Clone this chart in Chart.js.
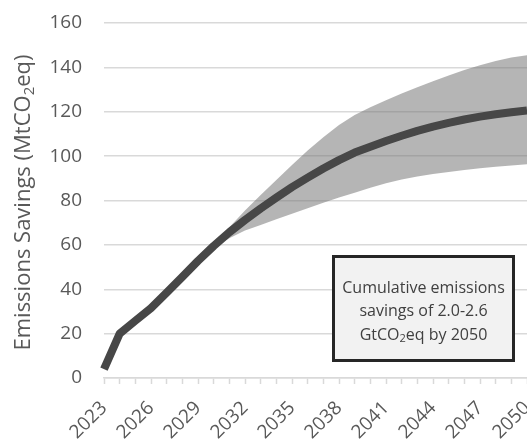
<!DOCTYPE html>
<html>
<head>
<meta charset="utf-8">
<script src="https://cdn.jsdelivr.net/npm/chart.js@4/dist/chart.umd.min.js"></script>
<style>
  html, body { margin: 0; padding: 0; background: #ffffff; }
  #wrap { width: 527px; height: 441px; position: relative; }
</style>
</head>
<body>
<div id="wrap"><canvas id="c" width="527" height="441"></canvas></div>
<script>
// Years on the category axis
const years = ['2023','2024','2025','2026','2027','2028','2029','2030','2031','2032',
  '2033','2034','2035','2036','2037','2038','2039','2040','2041','2042',
  '2043','2044','2045','2046','2047','2048','2049','2050'];

// Central estimate of annual emissions savings (MtCO2eq)
const central = [4, 20, 25.8, 31.5, 38.5, 45.6, 52.8, 59.5, 65.7, 71.2,
  76.4, 81.3, 86.0, 90.3, 94.4, 98.2, 101.6, 104.2, 106.8, 109.2,
  111.4, 113.3, 115.0, 116.5, 117.8, 118.9, 119.8, 120.6];

// Upper and lower bounds of the savings range
const rangeHigh = [4, 20, 25.8, 31.5, 38.5, 45.6, 52.8, 60.5, 68, 75.5,
  82.5, 89.2, 96, 102.5, 108.5, 114, 118.5, 122, 125.2, 128.2,
  131, 133.7, 136.3, 138.8, 141, 142.9, 144.4, 145.5];
const rangeLow = [4, 20, 25.8, 31.5, 38.5, 45.6, 52.8, 58.8, 63, 66.5,
  69, 71.5, 74, 76.5, 79, 81.3, 83.5, 85.7, 87.8, 89.5,
  90.8, 91.9, 92.8, 93.7, 94.5, 95.2, 95.8, 96.3];

// Axis title and note text
const axisTitle = ['Emissions Savings (MtCO', '2', 'eq)'];
const noteLines = [
  [['Cumulative emissions', false]],
  [['savings of 2.0-2.6', false]],
  [['GtCO', false], ['2', true], ['eq by 2050', false]]
];

const FONT = '"Open Sans", "DejaVu Sans", sans-serif';
const GRID = '#d9d9d9';
const LABEL = '#595959';

// Rotated y-axis title with a real subscript
const yTitlePlugin = {
  id: 'yTitle',
  afterDraw(chart) {
    const ctx = chart.ctx;
    const area = chart.chartArea;
    const big = '22px ' + FONT, small = '15px ' + FONT;
    ctx.save();
    ctx.font = big;
    const w0 = ctx.measureText(axisTitle[0]).width;
    const w2 = ctx.measureText(axisTitle[2]).width;
    ctx.font = small;
    const w1 = ctx.measureText(axisTitle[1]).width;
    const total = w0 + w1 + w2;
    const cx = 24, cy = (area.top + area.bottom) / 2 + 2;
    ctx.translate(cx, cy);
    ctx.rotate(-Math.PI / 2);
    ctx.fillStyle = LABEL;
    ctx.textBaseline = 'middle';
    ctx.textAlign = 'left';
    let x = -total / 2;
    ctx.font = big; ctx.fillText(axisTitle[0], x, 0); x += w0;
    ctx.font = small; ctx.fillText(axisTitle[1], x, 6); x += w1;
    ctx.font = big; ctx.fillText(axisTitle[2], x, 0);
    ctx.restore();
  }
};

// Framed note in the lower right of the plot
const notePlugin = {
  id: 'note',
  afterDraw(chart) {
    const ctx = chart.ctx;
    const a = chart.chartArea;
    const bw = 180, bh = 104;
    const right = a.right - 13.5, bottom = a.bottom - 17.5;
    const left = right - bw, top = bottom - bh;
    ctx.save();
    ctx.fillStyle = '#f2f2f2';
    ctx.fillRect(left, top, bw, bh);
    ctx.lineWidth = 3;
    ctx.strokeStyle = '#262626';
    ctx.strokeRect(left, top, bw, bh);
    const cx = left + bw / 2;
    const big = '16px ' + FONT, small = '11px ' + FONT;
    ctx.fillStyle = '#404040';
    ctx.textBaseline = 'alphabetic';
    ctx.textAlign = 'left';
    noteLines.forEach((parts, i) => {
      const baseY = top + 36 + i * 23.5;
      let total = 0;
      const widths = parts.map(([t, sub]) => {
        ctx.font = sub ? small : big;
        const w = ctx.measureText(t).width;
        total += w;
        return w;
      });
      let x = cx - total / 2;
      parts.forEach(([t, sub], j) => {
        ctx.font = sub ? small : big;
        ctx.fillText(t, x, baseY + (sub ? 2 : 0));
        x += widths[j];
      });
    });
    ctx.restore();
  }
};

new Chart(document.getElementById('c'), {
  type: 'line',
  data: {
    labels: years,
    datasets: [
      {
        label: 'Central',
        data: central,
        borderColor: '#474747',
        borderWidth: 8,
        pointRadius: 0,
        tension: 0,
        fill: false,
        borderCapStyle: 'butt',
        borderJoinStyle: 'round'
      },
      {
        label: 'High',
        data: rangeHigh,
        borderWidth: 0,
        borderColor: 'rgba(0,0,0,0)',
        backgroundColor: 'rgba(115,115,115,0.53)',
        pointRadius: 0,
        tension: 0,
        fill: '+1'
      },
      {
        label: 'Low',
        data: rangeLow,
        borderWidth: 0,
        borderColor: 'rgba(0,0,0,0)',
        pointRadius: 0,
        tension: 0,
        fill: false
      }
    ]
  },
  options: {
    responsive: false,
    animation: false,
    devicePixelRatio: 1,
    layout: { padding: { top: 23, right: 0, left: 0, bottom: 0 } },
    plugins: {
      legend: { display: false },
      tooltip: { enabled: false },
      title: { display: false }
    },
    scales: {
      x: {
        type: 'category',
        offset: false,
        grid: {
          display: true,
          drawOnChartArea: false,
          drawTicks: true,
          tickLength: 6,
          tickColor: GRID,
          tickWidth: 1.5,
          offset: false
        },
        border: { display: true, color: GRID, width: 1.5 },
        ticks: {
          autoSkip: false,
          maxRotation: 45,
          minRotation: 45,
          padding: 13,
          color: LABEL,
          font: { family: FONT, size: 19 },
          callback: function (value, index) {
            return index % 3 === 0 ? this.getLabelForValue(value) : '';
          }
        },
        afterFit(s) {
          s.height = 63;
          s.paddingLeft = 0;
          s.paddingRight = 0;
        }
      },
      y: {
        min: 0,
        max: 160,
        grid: {
          color: GRID,
          lineWidth: 1.5,
          drawTicks: false
        },
        border: { display: false },
        ticks: {
          stepSize: 20,
          padding: 22,
          color: LABEL,
          font: { family: FONT, size: 19 }
        },
        afterFit(s) {
          s.width = 104;
          s.paddingTop = 0;
          s.paddingBottom = 0;
        }
      }
    }
  },
  plugins: [yTitlePlugin, notePlugin]
});
</script>
</body>
</html>
